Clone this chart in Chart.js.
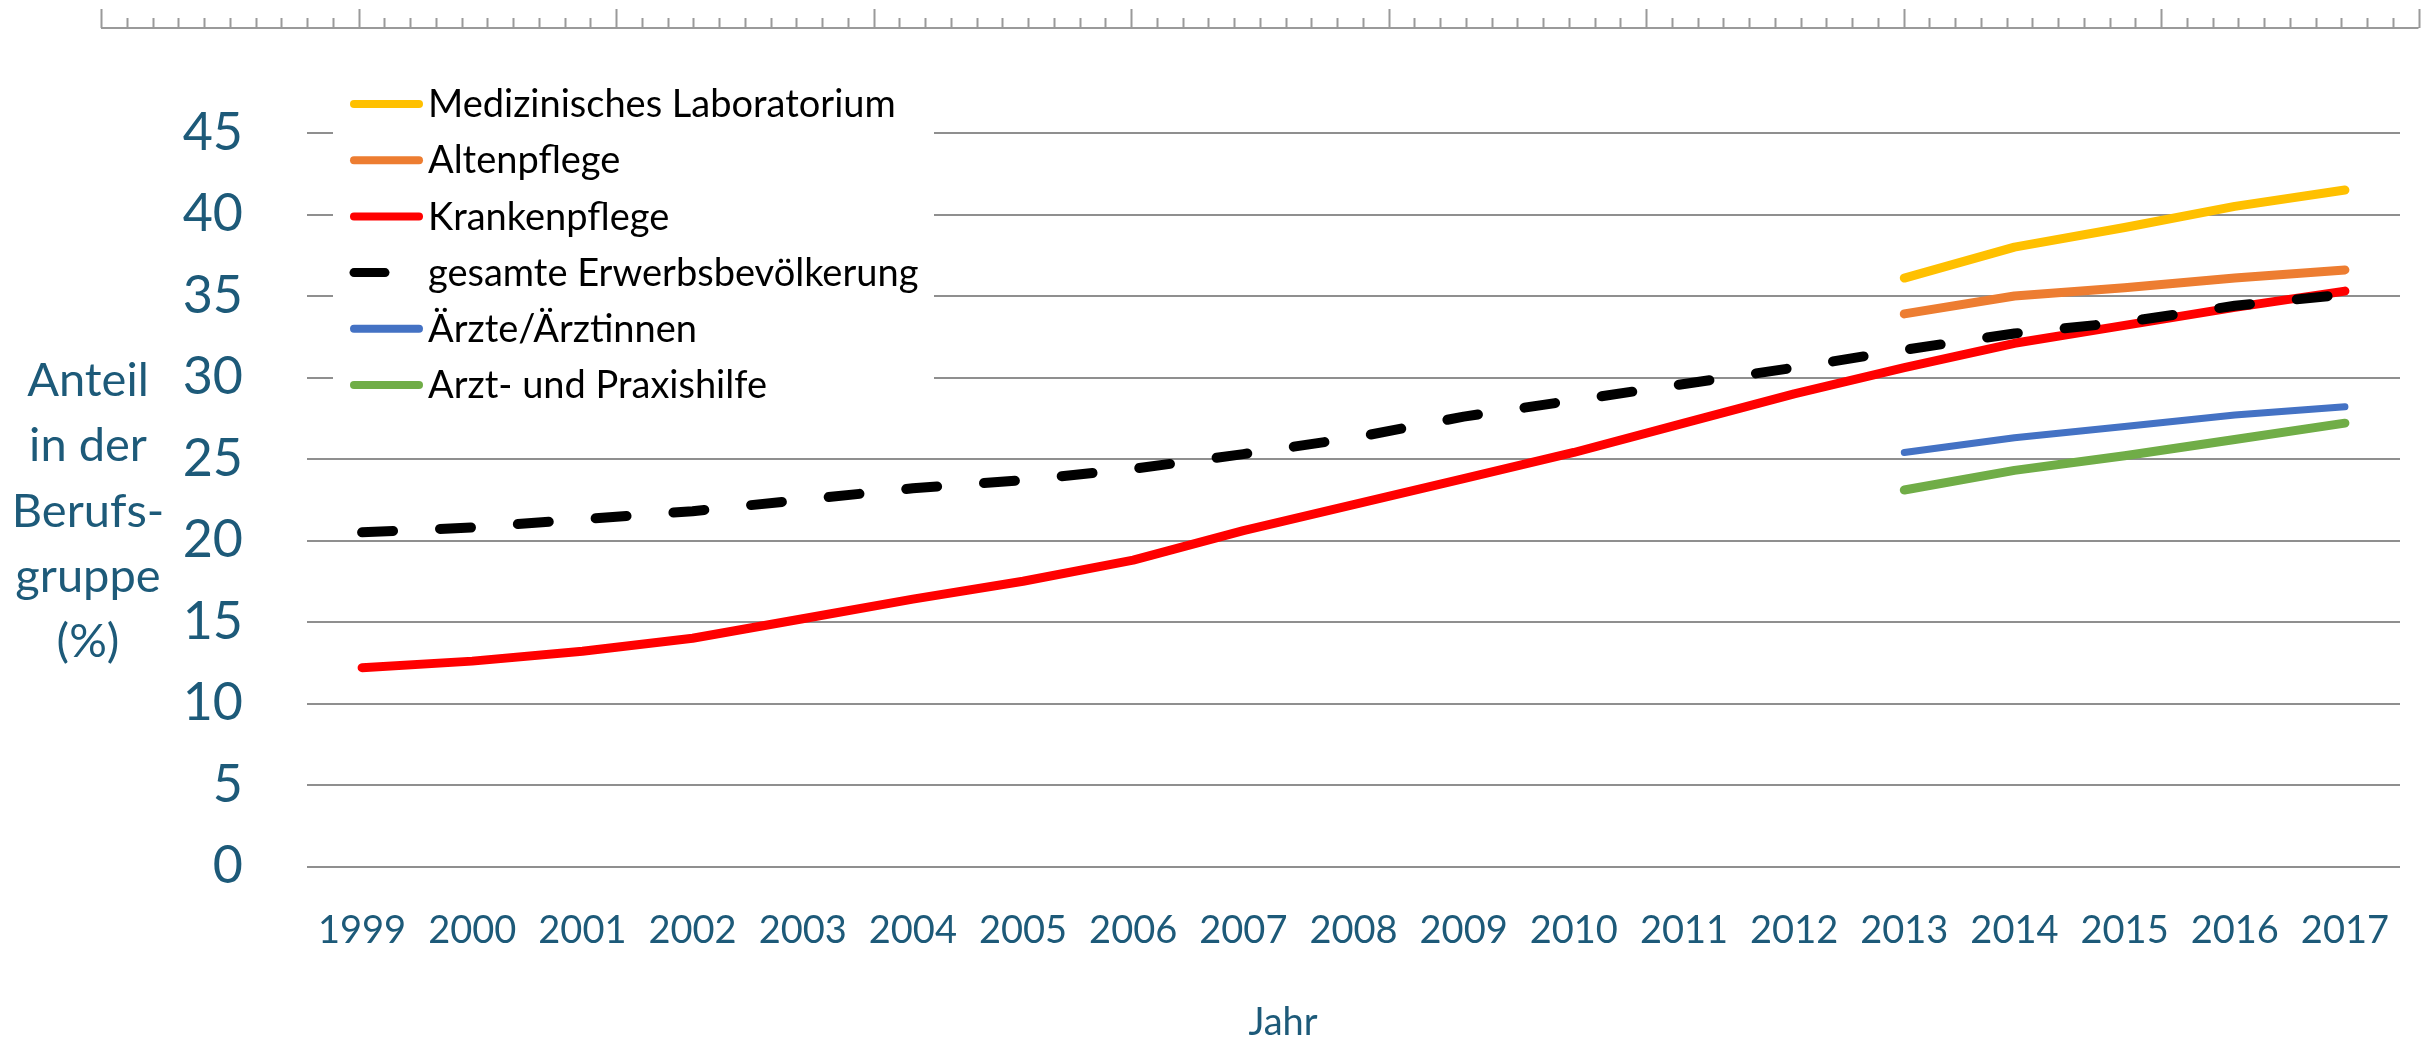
<!DOCTYPE html>
<html lang="de">
<head>
<meta charset="utf-8">
<title>Anteil in der Berufsgruppe</title>
<script src="https://cdn.jsdelivr.net/npm/chart.js"></script>
<style>
  html, body { margin: 0; padding: 0; background: #fff; }
  #chart { display: block; }
</style>
</head>
<body>
<canvas id="chart" width="2435" height="1040"></canvas>
<script>
// categories
const years = ['1999', '2000', '2001', '2002', '2003', '2004', '2005', '2006', '2007', '2008',
  '2009', '2010', '2011', '2012', '2013', '2014', '2015', '2016', '2017'];

// full series 1999-2017
const krankenpflege = [12.2, 12.6, 13.2, 14.0, 15.2, 16.4, 17.5, 18.8, 20.6, 22.2,
  23.8, 25.4, 27.2, 29.0, 30.6, 32.1, 33.2, 34.3, 35.3];
const gesamt = [20.5, 20.8, 21.3, 21.8, 22.5, 23.2, 23.7, 24.4, 25.3, 26.3,
  27.6, 28.6, 29.6, 30.6, 31.7, 32.7, 33.4, 34.4, 35.1];

// short series 2013-2017
const shortStart = '2013';
const labor = [36.1, 38.0, 39.2, 40.5, 41.5];
const altenpflege = [33.9, 35.0, 35.5, 36.1, 36.6];
const aerzte = [25.4, 26.3, 27.0, 27.7, 28.2];
const praxishilfe = [23.1, 24.3, 25.2, 26.2, 27.2];

// y axis
const yMin = 0;
const yMax = 45;
const yStep = 5;
const yTitle = ['Anteil', 'in der', 'Berufs-', 'gruppe', '(%)'];
const xTitle = 'Jahr';

const teal = '#1D5A79';
const gridGrey = '#8F8F8F';

const padShort = (vals) => Array(years.indexOf(shortStart)).fill(null).concat(vals);

// the ruler strip along the top edge
const rulerPlugin = {
  id: 'ruler',
  afterDraw(chart) {
    const { ctx } = chart;
    const x0 = 101;
    const major = 257.5;
    const base = 28;
    ctx.save();
    ctx.strokeStyle = '#9A9A9A';
    ctx.lineWidth = 2;
    ctx.beginPath();
    ctx.moveTo(x0, base);
    ctx.lineTo(x0 + major * 9, base);
    for (let i = 0; i <= 9; i += 1) {
      const mx = Math.round(x0 + major * i) + 0.5;
      ctx.moveTo(mx, base);
      ctx.lineTo(mx, 9);
      if (i < 9) {
        for (let j = 1; j < 10; j += 1) {
          const sx = Math.round(x0 + major * i + (major / 10) * j) + 0.5;
          ctx.moveTo(sx, base);
          ctx.lineTo(sx, 18);
        }
      }
    }
    ctx.stroke();
    ctx.restore();
  },
};

// legend box in the upper left of the plot
const legendPlugin = {
  id: 'boxLegend',
  afterDraw(chart) {
    const { ctx } = chart;
    ctx.save();
    ctx.fillStyle = '#fff';
    ctx.fillRect(333, 78, 601, 334);
    ctx.font = '38px Lato';
    ctx.textBaseline = 'middle';
    ctx.textAlign = 'left';
    chart.data.datasets.forEach((ds, i) => {
      const y = 104 + i * 56.2;
      ctx.beginPath();
      ctx.strokeStyle = ds.borderColor;
      ctx.lineWidth = ds.borderDash ? 9 : 8;
      ctx.lineCap = 'round';
      ctx.setLineDash(ds.borderDash || []);
      ctx.moveTo(354, y);
      ctx.lineTo(419, y);
      ctx.stroke();
      ctx.setLineDash([]);
      ctx.fillStyle = '#000';
      ctx.fillText(ds.label, 428, y + 1);
    });
    ctx.restore();
  },
};

// horizontal multi-line y title and the x title
const titlesPlugin = {
  id: 'titles',
  afterDraw(chart) {
    const { ctx } = chart;
    ctx.save();
    ctx.fillStyle = teal;
    ctx.textAlign = 'center';
    ctx.textBaseline = 'alphabetic';
    ctx.font = '47px Lato';
    yTitle.forEach((line, i) => {
      ctx.fillText(line, 88, 396 + i * 65.3);
    });
    ctx.font = '38px Lato';
    ctx.fillText(xTitle, 1283, 1035);
    ctx.restore();
  },
};

function drawChart() {
  const ctx = document.getElementById('chart');
  new Chart(ctx, {
    type: 'line',
    data: {
      labels: years,
      datasets: [{
        label: 'Medizinisches Laboratorium',
        data: padShort(labor),
        borderColor: '#FFC000',
        borderWidth: 9,
        order: 2,
      }, {
        label: 'Altenpflege',
        data: padShort(altenpflege),
        borderColor: '#ED7D31',
        borderWidth: 9,
        order: 2,
      }, {
        label: 'Krankenpflege',
        data: krankenpflege,
        borderColor: '#FF0000',
        borderWidth: 9,
        order: 3,
      }, {
        label: 'gesamte Erwerbsbevölkerung',
        data: gesamt,
        borderColor: '#000000',
        borderWidth: 10,
        borderDash: [31, 47],
        order: 1,
      }, {
        label: 'Ärzte/Ärztinnen',
        data: padShort(aerzte),
        borderColor: '#4472C4',
        borderWidth: 7,
        order: 2,
      }, {
        label: 'Arzt- und Praxishilfe',
        data: padShort(praxishilfe),
        borderColor: '#70AD47',
        borderWidth: 9,
        order: 2,
      }],
    },
    options: {
      responsive: false,
      animation: false,
      devicePixelRatio: 1,
      layout: { padding: { top: 133, right: 35, bottom: 0, left: 0 } },
      elements: {
        point: { radius: 0, hoverRadius: 0 },
        line: {
          tension: 0, fill: false, borderCapStyle: 'round', borderJoinStyle: 'round',
        },
      },
      plugins: {
        legend: { display: false },
        tooltip: { enabled: false },
      },
      scales: {
        x: {
          offset: true,
          grid: { display: false },
          border: { display: false },
          ticks: {
            font: { family: 'Lato', size: 38 },
            color: teal,
            padding: 33,
            maxRotation: 0,
            autoSkip: false,
          },
          afterFit(scale) { scale.height = 173.5; },
        },
        y: {
          min: yMin,
          max: yMax,
          ticks: {
            stepSize: yStep,
            font: { family: 'Lato', size: 52 },
            color: teal,
            padding: 64,
          },
          grid: { color: gridGrey, lineWidth: 2, drawTicks: false },
          border: { display: false },
          afterFit(scale) { scale.width = 307; },
        },
      },
    },
    plugins: [rulerPlugin, legendPlugin, titlesPlugin],
  });
}

if (document.fonts && document.fonts.load) {
  Promise.all([document.fonts.load('38px Lato'), document.fonts.load('52px Lato')])
    .then(drawChart, drawChart);
} else {
  drawChart();
}
</script>
</body>
</html>
